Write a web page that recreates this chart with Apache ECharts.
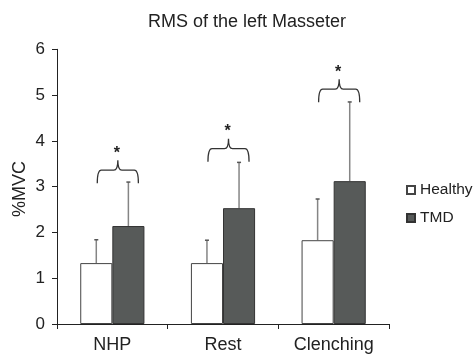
<!DOCTYPE html>
<html>
<head>
<meta charset="utf-8">
<script src="https://cdn.jsdelivr.net/npm/echarts@6/dist/echarts.min.js"></script>
<style>html,body{margin:0;padding:0;background:#fff;}#c{width:473px;height:354px;}</style>
</head>
<body>
<div id="c"></div>
<script>
const categories = ['NHP', 'Rest', 'Clenching'];
const healthy = [1.33, 1.33, 1.83];
const healthyErrTop = [1.84, 1.83, 2.73];
const tmd = [2.14, 2.53, 3.12];
const tmdErrTop = [3.10, 3.53, 4.85];
const braceLevel = [3.36, 3.83, 5.13];
const sigMarks = ['*', '*', '*'];
const yTicks = [0, 1, 2, 3, 4, 5, 6];
const yAxisTitle = '%MVC';

const font = 'Liberation Sans, Arial, Helvetica, sans-serif';
const gapRatio = 0.42;

const chart = echarts.init(document.getElementById('c'));

function errRender(side) {
  return function (params, api) {
    const idx = api.value(0);
    const base = api.coord([idx, api.value(1)]);
    const top = api.coord([idx, api.value(2)]);
    const band = api.size([1, 0])[0];
    const bw = band * (1 - gapRatio) / 2;
    const x = base[0] + side * bw / 2;
    return {
      type: 'group',
      children: [
        { type: 'line', shape: { x1: x, y1: base[1], x2: x, y2: top[1] }, style: { stroke: '#858585', lineWidth: 1.5 } },
        { type: 'line', shape: { x1: x - 2, y1: top[1], x2: x + 2, y2: top[1] }, style: { stroke: '#555', lineWidth: 1.5 } }
      ]
    };
  };
}

function braceRender(params, api) {
  const idx = api.value(0);
  const p = api.coord([idx, api.value(1)]);
  const band = api.size([1, 0])[0];
  const bw = band * (1 - gapRatio) / 2;
  const x0 = p[0] - bw / 2 + 1;
  const x1 = p[0] + bw / 2 + 10;
  const xc = (x0 + x1) / 2;
  const yt = p[1];
  const yb = yt + 13;
  const ys = yt - 10;
  const r = 4;
  const path = 'M' + x0 + ',' + yb +
    ' Q' + x0 + ',' + yt + ' ' + (x0 + r) + ',' + yt +
    ' L' + (xc - r) + ',' + yt +
    ' Q' + xc + ',' + yt + ' ' + xc + ',' + ys +
    ' Q' + xc + ',' + yt + ' ' + (xc + r) + ',' + yt +
    ' L' + (x1 - r) + ',' + yt +
    ' Q' + x1 + ',' + yt + ' ' + x1 + ',' + yb;
  return {
    type: 'group',
    children: [
      { type: 'path', shape: { pathData: path }, style: { fill: null, stroke: '#333', lineWidth: 1.3 } },
      { type: 'text', x: xc - 1, y: ys - 7, style: { text: sigMarks[idx], fill: '#222', font: 'bold 16px ' + font, textAlign: 'center', textVerticalAlign: 'middle' } }
    ]
  };
}

chart.setOption({
  animation: false,
  backgroundColor: '#fff',
  title: {
    text: 'RMS of the left Masseter',
    left: 242, top: 8, textAlign: 'center',
    textStyle: { fontFamily: font, fontSize: 18, fontWeight: 'normal', color: '#222' }
  },
  legend: {
    data: ['Healthy', 'TMD'],
    orient: 'vertical',
    left: 401, top: 177,
    itemWidth: 8, itemHeight: 8, itemGap: 12,
    icon: 'rect',
    textStyle: { fontFamily: font, fontSize: 15.5, color: '#222', padding: [0, 0, 0, 0] }
  },
  graphic: [{
    type: 'text', x: 20, y: 189, rotation: Math.PI / 2,
    style: { text: yAxisTitle, font: '18px ' + font, fill: '#222', textAlign: 'center', textVerticalAlign: 'middle' }
  }],
  grid: { left: 57, right: 84, top: 49.3, bottom: 26.7 },
  xAxis: {
    type: 'category',
    data: categories,
    axisLine: { lineStyle: { color: '#222', width: 1 } },
    axisTick: { show: true, length: 5, alignWithLabel: false, lineStyle: { color: '#222' } },
    axisLabel: { fontFamily: font, fontSize: 18, color: '#222', margin: 12 }
  },
  yAxis: {
    type: 'value',
    min: yTicks[0], max: yTicks[yTicks.length - 1], interval: 1,
    axisLine: { show: true, lineStyle: { color: '#222', width: 1 } },
    axisTick: { show: true, length: 5, lineStyle: { color: '#222' } },
    axisLabel: { fontFamily: font, fontSize: 17, color: '#222', margin: 12 },
    splitLine: { show: false }
  },
  series: [
    {
      name: 'Healthy', type: 'bar', data: healthy,
      barGap: '0%', barCategoryGap: (gapRatio * 100) + '%',
      itemStyle: { color: '#ffffff', borderColor: '#444', borderWidth: 1 }
    },
    {
      name: 'TMD', type: 'bar', data: tmd,
      itemStyle: { color: '#575a59', borderColor: '#333', borderWidth: 1 }
    },
    {
      type: 'custom', renderItem: errRender(-1), z: 1,
      data: categories.map((c, i) => [i, healthy[i], healthyErrTop[i]])
    },
    {
      type: 'custom', renderItem: errRender(1), z: 1,
      data: categories.map((c, i) => [i, tmd[i], tmdErrTop[i]])
    },
    {
      type: 'custom', renderItem: braceRender, z: 3,
      data: categories.map((c, i) => [i, braceLevel[i]])
    }
  ]
});
</script>
</body>
</html>
